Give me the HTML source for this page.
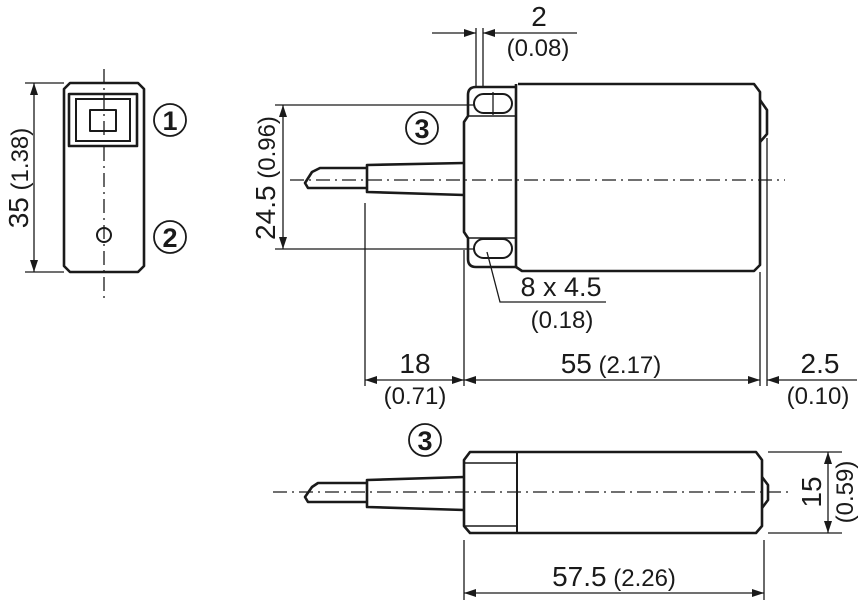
<!DOCTYPE html>
<html><head><meta charset="utf-8"><style>
html,body{margin:0;padding:0;background:#fff;}
svg{display:block;}
text{font-family:"Liberation Sans",sans-serif;fill:#1a1a1a;}
.b{fill:none;stroke:#1a1a1a;stroke-width:2.6;stroke-linejoin:round;}
.t{fill:none;stroke:#1a1a1a;stroke-width:1.3;}
.c{fill:none;stroke:#1a1a1a;stroke-width:1.3;stroke-dasharray:14,5,2,5;}
.big{font-size:28px;}
.sm{font-size:24px;}
</style></head><body>
<svg width="859" height="600" viewBox="0 0 859 600" xmlns="http://www.w3.org/2000/svg">
<defs>
<marker id="a" viewBox="0 0 12 8" refX="12" refY="4" markerWidth="13" markerHeight="8" markerUnits="userSpaceOnUse" orient="auto-start-reverse"><path d="M0,0 L12,4 L0,8 z" fill="#1a1a1a"/></marker>
</defs>

<!-- LEFT VIEW -->
<path class="b" d="M70,83 L138,83 L144,89 L144,266 L138,272 L70,272 L64,266 L64,89 Z"/>
<rect class="b" x="69" y="94" width="68" height="52"/>
<rect class="t" x="76" y="99" width="54" height="42" style="stroke-width:2"/>
<rect class="b" x="90" y="110" width="26" height="21" style="stroke-width:2"/>
<line class="c" x1="104" y1="69" x2="104" y2="300"/>
<circle class="b" cx="104" cy="235" r="7" style="stroke-width:2"/>
<line class="t" x1="25" y1="83" x2="64" y2="83"/>
<line class="t" x1="25" y1="272" x2="64" y2="272"/>
<line class="t" x1="34" y1="83" x2="34" y2="272" marker-start="url(#a)" marker-end="url(#a)"/>
<text transform="translate(28,178) rotate(-90)" text-anchor="middle"><tspan class="big">35</tspan><tspan class="sm"> (1.38)</tspan></text>
<circle class="t" cx="170" cy="120" r="16" style="stroke-width:1.8"/>
<text x="170" y="130" text-anchor="middle" style="font-size:27px;font-weight:bold">1</text>
<circle class="t" cx="170" cy="237" r="16" style="stroke-width:1.8"/>
<text x="170" y="247" text-anchor="middle" style="font-size:27px;font-weight:bold">2</text>

<!-- TOP VIEW -->
<path class="b" d="M518,84 L754,84 L760,92 L760,265 L754,271 L522,271 L516,267"/>
<path class="b" d="M760,100 L767,110 L767,134 L760,142"/>
<path class="b" d="M516,84 L516,267 L476,267 Q468,267 468,259 L468,238 L464,232 L464,122 L468,116 L468,95 Q468,87 476,87 L516,87"/>
<line class="b" x1="468" y1="116" x2="516" y2="116" style="stroke-width:1.6"/>
<line class="b" x1="468" y1="238" x2="516" y2="238" style="stroke-width:1.6"/>
<rect class="b" x="474" y="94" width="38" height="19" rx="9.5" style="stroke-width:2"/>
<rect class="b" x="474" y="239" width="38" height="19" rx="9.5" style="stroke-width:2"/>
<path class="b" d="M464,163 L367,165 L367,192 L464,195"/>
<path class="b" d="M367,168 L320,168 L312,172 L305,183 L308,188 L367,188"/>
<line class="c" x1="290" y1="180" x2="785" y2="180"/>
<line class="t" x1="493" y1="92" x2="493" y2="115"/>
<line class="t" x1="275" y1="105" x2="474" y2="105"/>
<line class="t" x1="275" y1="249" x2="474" y2="249"/>
<line class="t" x1="283" y1="105" x2="283" y2="249" marker-start="url(#a)" marker-end="url(#a)"/>
<text transform="translate(275,178) rotate(-90)" text-anchor="middle"><tspan class="big">24.5</tspan><tspan class="sm"> (0.96)</tspan></text>
<circle class="t" cx="422" cy="128" r="16" style="stroke-width:1.8"/>
<text x="422" y="138" text-anchor="middle" style="font-size:27px;font-weight:bold">3</text>
<line class="t" x1="476" y1="28" x2="476" y2="87"/>
<line class="t" x1="483" y1="28" x2="483" y2="87"/>
<line class="t" x1="432" y1="33" x2="476" y2="33" marker-end="url(#a)"/>
<line class="t" x1="577" y1="33" x2="483" y2="33" marker-end="url(#a)"/>
<text x="539" y="26" text-anchor="middle" class="big">2</text>
<text x="538" y="56" text-anchor="middle" class="sm">(0.08)</text>
<polyline class="t" points="487,252 500,302 606,302"/>
<text x="561" y="296" text-anchor="middle" style="font-size:27px">8 x 4.5</text>
<text x="562" y="328" text-anchor="middle" class="sm">(0.18)</text>
<line class="t" x1="365" y1="203" x2="365" y2="386"/>
<line class="t" x1="464" y1="250" x2="464" y2="386"/>
<line class="t" x1="760" y1="272" x2="760" y2="386"/>
<line class="t" x1="767" y1="138" x2="767" y2="386"/>
<line class="t" x1="365" y1="380" x2="464" y2="380" marker-start="url(#a)" marker-end="url(#a)"/>
<line class="t" x1="464" y1="380" x2="760" y2="380" marker-start="url(#a)" marker-end="url(#a)"/>
<line class="t" x1="857" y1="380" x2="767" y2="380" marker-end="url(#a)"/>
<text x="415" y="373" text-anchor="middle" class="big">18</text>
<text x="415" y="404" text-anchor="middle" class="sm">(0.71)</text>
<text x="611" y="373" text-anchor="middle"><tspan class="big">55</tspan><tspan class="sm"> (2.17)</tspan></text>
<text x="820" y="373" text-anchor="middle" class="big">2.5</text>
<text x="818" y="404" text-anchor="middle" class="sm">(0.10)</text>

<!-- BOTTOM VIEW -->
<circle class="t" cx="425" cy="440" r="16" style="stroke-width:1.8"/>
<text x="425" y="450" text-anchor="middle" style="font-size:27px;font-weight:bold">3</text>
<path class="b" d="M470,452 L756,452 L762,460 L762,526 L756,533 L470,533 L464,526 L464,460 Z"/>
<line class="b" x1="517" y1="452" x2="517" y2="533" style="stroke-width:2"/>
<line class="b" x1="464" y1="463" x2="517" y2="463" style="stroke-width:1.6"/>
<line class="b" x1="464" y1="526" x2="517" y2="526" style="stroke-width:1.6"/>
<path class="b" d="M762,477 L768,485 L768,500 L762,508"/>
<path class="b" d="M464,477 L367,480 L367,507 L464,510"/>
<path class="b" d="M367,483 L318,483 L312,487 L305,497 L308,502 L367,502"/>
<line class="c" x1="273" y1="492" x2="790" y2="492"/>
<line class="t" x1="768" y1="452" x2="842" y2="452"/>
<line class="t" x1="768" y1="533" x2="842" y2="533"/>
<line class="t" x1="828" y1="452" x2="828" y2="533" marker-start="url(#a)" marker-end="url(#a)"/>
<text transform="translate(821,492) rotate(-90)" text-anchor="middle" class="big">15</text>
<text transform="translate(853,492) rotate(-90)" text-anchor="middle" class="sm">(0.59)</text>
<line class="t" x1="464" y1="540" x2="464" y2="600"/>
<line class="t" x1="764" y1="540" x2="764" y2="600"/>
<line class="t" x1="464" y1="593" x2="764" y2="593" marker-start="url(#a)" marker-end="url(#a)"/>
<text x="614" y="586" text-anchor="middle"><tspan class="big">57.5</tspan><tspan class="sm"> (2.26)</tspan></text>
</svg>
</body></html>
